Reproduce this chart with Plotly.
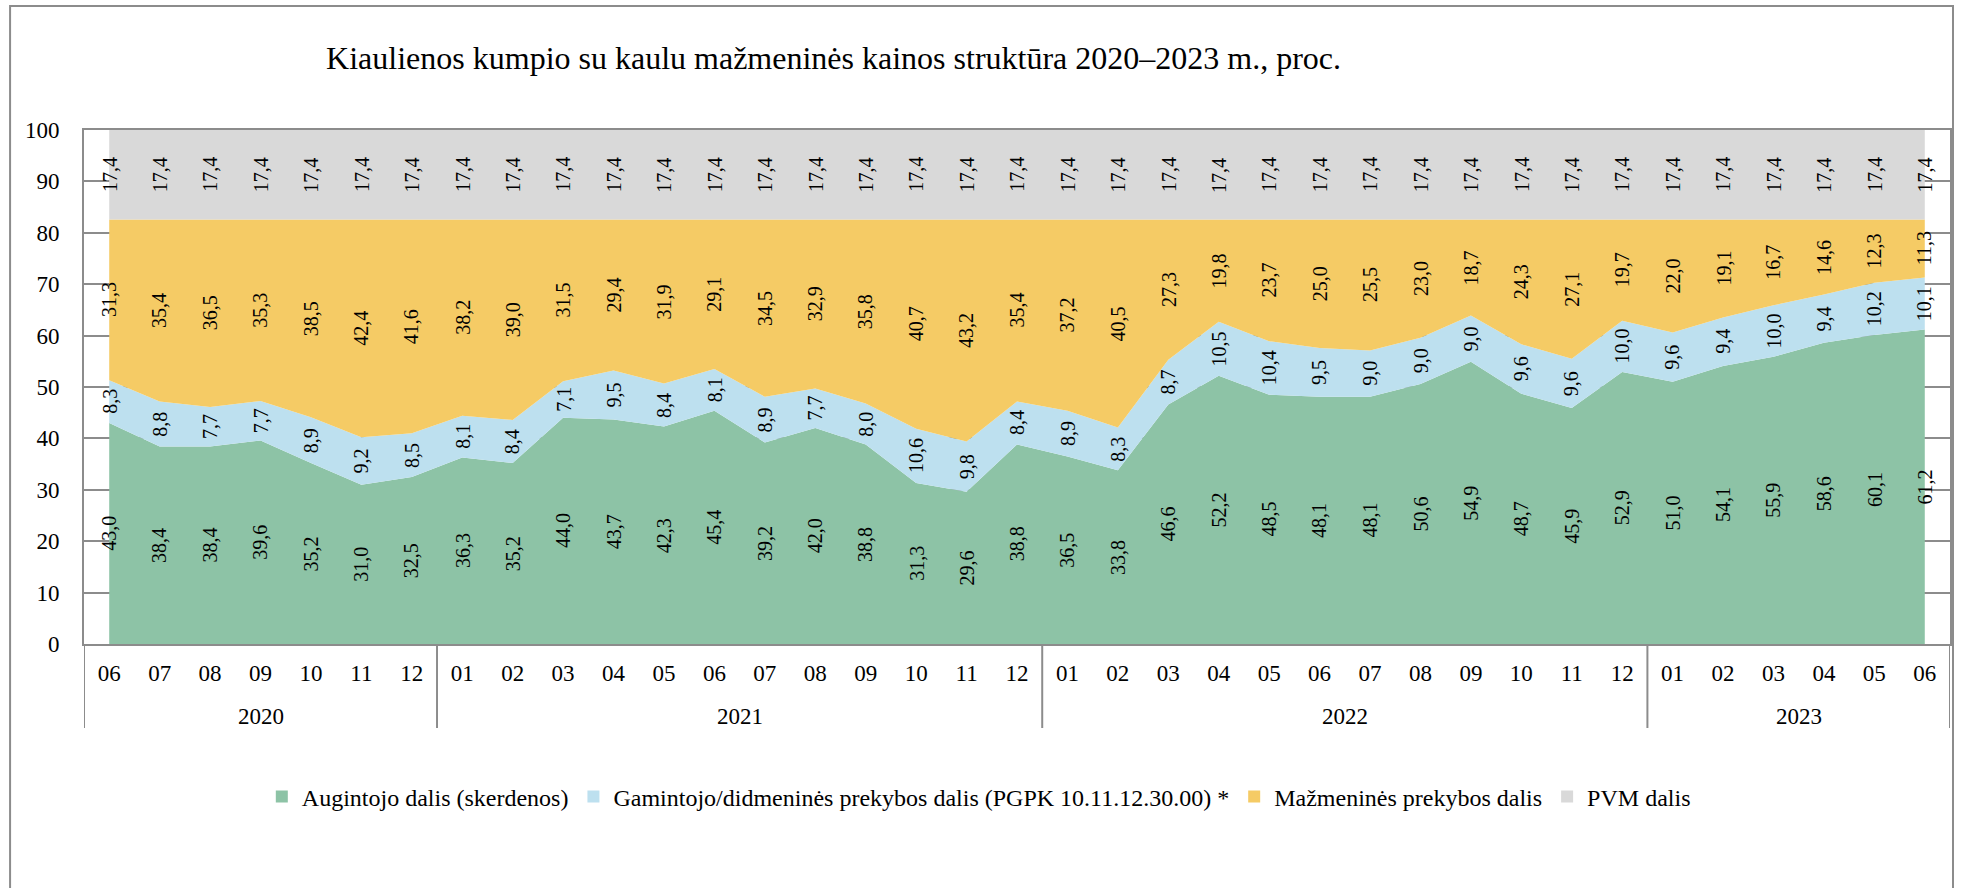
import plotly.graph_objects as go

years = ["2020", "2021", "2022", "2023"]
months_per_year = [7, 12, 12, 6]
months = ["06", "07", "08", "09", "10", "11", "12",
          "01", "02", "03", "04", "05", "06", "07", "08", "09", "10", "11", "12",
          "01", "02", "03", "04", "05", "06", "07", "08", "09", "10", "11", "12",
          "01", "02", "03", "04", "05", "06"]

augintojo = [43.0, 38.4, 38.4, 39.6, 35.2, 31.0, 32.5,
             36.3, 35.2, 44.0, 43.7, 42.3, 45.4, 39.2, 42.0, 38.8, 31.3, 29.6, 38.8,
             36.5, 33.8, 46.6, 52.2, 48.5, 48.1, 48.1, 50.6, 54.9, 48.7, 45.9, 52.9,
             51.0, 54.1, 55.9, 58.6, 60.1, 61.2]
gamintojo = [8.3, 8.8, 7.7, 7.7, 8.9, 9.2, 8.5,
             8.1, 8.4, 7.1, 9.5, 8.4, 8.1, 8.9, 7.7, 8.0, 10.6, 9.8, 8.4,
             8.9, 8.3, 8.7, 10.5, 10.4, 9.5, 9.0, 9.0, 9.0, 9.6, 9.6, 10.0,
             9.6, 9.4, 10.0, 9.4, 10.2, 10.1]
mazmenines = [31.3, 35.4, 36.5, 35.3, 38.5, 42.4, 41.6,
              38.2, 39.0, 31.5, 29.4, 31.9, 29.1, 34.5, 32.9, 35.8, 40.7, 43.2, 35.4,
              37.2, 40.5, 27.3, 19.8, 23.7, 25.0, 25.5, 23.0, 18.7, 24.3, 27.1, 19.7,
              22.0, 19.1, 16.7, 14.6, 12.3, 11.3]
pvm = [17.4] * 37

series_names = ["Augintojo dalis (skerdenos)",
                "Gamintojo/didmeninės prekybos dalis (PGPK 10.11.12.30.00) *",
                "Mažmeninės prekybos dalis",
                "PVM dalis"]
series_values = [augintojo, gamintojo, mazmenines, pvm]
colors = ["#8DC3A6", "#BDE0EF", "#F5CB65", "#D9D9D9"]

FONT = "Liberation Serif, Times New Roman, serif"
GRAY = "#8C8C8C"
idx = list(range(len(months)))

fig = go.Figure()
for name, vals, col in zip(series_names, series_values, colors):
    fig.add_trace(go.Scatter(
        x=idx, y=vals, name=name, mode="lines", stackgroup="one",
        line=dict(width=0, color=col), fillcolor=col, showlegend=False,
        hoverinfo="skip"))

# legend entries (square swatches)
for name, col in zip(series_names, colors):
    fig.add_trace(go.Bar(x=[0], y=[0], name=name, marker=dict(color=col, line=dict(width=0)),
                         xaxis="x2", yaxis="y2", showlegend=True, hoverinfo="skip"))

# data labels centred in each band
annotations = []
base = [0.0] * len(months)
for vals in series_values:
    for i, v in enumerate(vals):
        annotations.append(dict(
            x=i, y=base[i] + v / 2, xref="x", yref="y",
            text=f"{v:.1f}".replace(".", ","), showarrow=False, textangle=-90,
            font=dict(family=FONT, size=20, color="#000000")))
        base[i] += v

# year group labels and dividers
shapes = []
start = 0
bounds = [-0.5]
for yr, n in zip(years, months_per_year):
    annotations.append(dict(x=start + (n - 1) / 2, y=(644 - 716) / 514, xref="x", yref="paper",
                            text=yr, showarrow=False, yanchor="middle",
                            font=dict(family=FONT, size=23, color="#000000")))
    start += n
    bounds.append(start - 0.5)
for b in bounds:
    shapes.append(dict(type="line", xref="x", yref="paper", x0=b, x1=b, y0=0,
                       y1=(644 - 728) / 514, line=dict(color=GRAY, width=2)))

# outer chart frame
shapes.append(dict(type="rect", xref="paper", yref="paper",
                   x0=(10 - 84) / 1868, x1=(1955 - 84) / 1868,
                   y0=-0.6, y1=(644 - 6) / 514,
                   line=dict(color=GRAY, width=2), fillcolor="rgba(0,0,0,0)", layer="below"))

fig.update_layout(
    width=1964, height=888,
    margin=dict(l=84, r=12, t=130, b=244),
    paper_bgcolor="white", plot_bgcolor="white",
    font=dict(family=FONT, size=23, color="#000000"),
    title=dict(text="Kiaulienos kumpio su kaulu mažmeninės kainos struktūra 2020–2023 m., proc.",
               x=0.4017, xref="paper", xanchor="center", y=1 - 58 / 888, yanchor="middle",
               font=dict(family=FONT, size=32, color="#000000")),
    showlegend=True,
    legend=dict(orientation="h", x=(262 - 84) / 1868, xanchor="left", y=(644 - 797) / 514,
                yanchor="middle", font=dict(family=FONT, size=24), traceorder="normal",
                bgcolor="rgba(0,0,0,0)"),
    annotations=annotations,
    shapes=shapes,
    xaxis=dict(range=[-0.5, len(months) - 0.5], tickvals=idx, ticktext=months,
               showline=True, mirror=True, linecolor=GRAY, linewidth=2, showgrid=False,
               zeroline=False, ticks="", ticklabelstandoff=7,
               tickfont=dict(family=FONT, size=23)),
    yaxis=dict(range=[0, 100], dtick=10, showline=True, mirror=True, linecolor=GRAY,
               linewidth=2, showgrid=True, gridcolor=GRAY, gridwidth=1.5,
               zeroline=False, ticks="", ticklabelstandoff=18,
               tickfont=dict(family=FONT, size=23)),
    xaxis2=dict(visible=False, overlaying="x", range=[10, 11]),
    yaxis2=dict(visible=False, overlaying="y", range=[10, 11]),
)

fig.write_html("out.html", config={"displayModeBar": False},
               post_script="document.body.style.margin='0';")
